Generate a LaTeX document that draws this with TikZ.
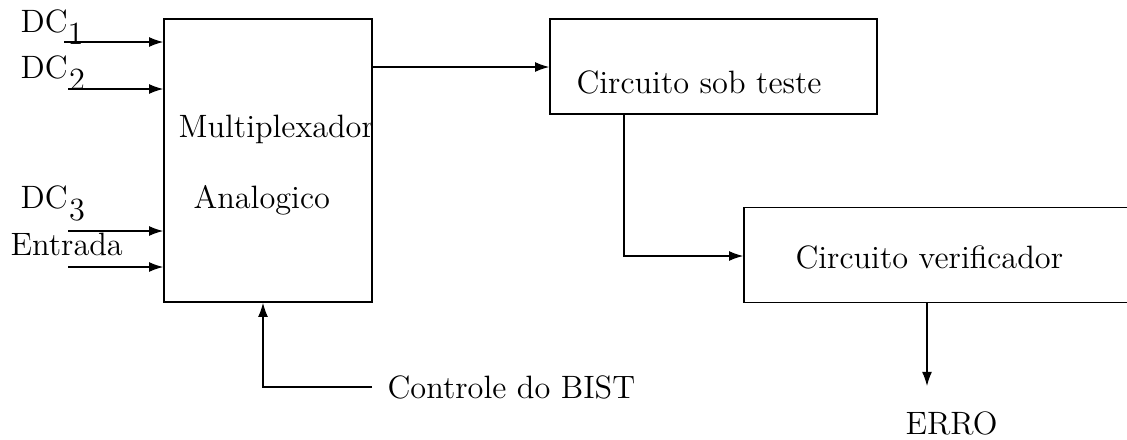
\documentclass[tikz,border=0pt]{standalone}
\usetikzlibrary{arrows.meta}

\tikzset{
  blk/.style={draw,semithick,rectangle,inner sep=0pt},
  lbl/.style={font=\fontsize{11.5}{13}\selectfont,anchor=base west,inner sep=0pt},
  arr/.style={-{Latex[length=5pt,width=3.5pt]}},
}
\newcommand{\lowsub}[2]{\kern#1\raisebox{-0.38em}{#2}}

\begin{document}
\begin{tikzpicture}[x=0.0125cm,y=-0.0125cm]
  \useasboundingbox (0,0) rectangle (1127,439);

  % blocks
  \node[blk,minimum width=208*0.0125cm,minimum height=283*0.0125cm] (mux) at (268,160.5) {};
  \node[blk,minimum width=327*0.0125cm,minimum height=95*0.0125cm] (cut) at (713.5,66.5) {};
  \node[blk,minimum width=400*0.0125cm,minimum height=95*0.0125cm] (ver) at (944,255) {};

  \node[lbl] (mtxt) at (178,137) {Multiplexador};
  \node[lbl] (atxt) at (193,208) {Analogico};
  \node[lbl] (ctxt) at (576,93) {Circuito sob teste};
  \node[lbl] (vtxt) at (795,268) {Circuito verificador};

  % inputs
  \coordinate (in1) at (64,42);
  \coordinate (in2) at (68,89);
  \coordinate (in3) at (68,231);
  \coordinate (in4) at (68,267);

  \node[lbl] (dc1) at (20,32) {DC\lowsub{0em}{1}};
  \node[lbl] (dc2) at (20,78) {DC\lowsub{0.05em}{2}};
  \node[lbl] (dc3) at (20,208) {DC\lowsub{0.05em}{3}};
  \node[lbl] (ent) at (10,255) {Entrada};

  \draw[arr] (in1) -- (in1 -| mux.west);
  \draw[arr] (in2) -- (in2 -| mux.west);
  \draw[arr] (in3) -- (in3 -| mux.west);
  \draw[arr] (in4) -- (in4 -| mux.west);

  % chain
  \coordinate (mout) at (372,67);
  \coordinate (bend) at (624,256);
  \coordinate (errtip) at (927,386);

  \draw[arr] (mout) -- (mout -| cut.west);
  \draw[arr] (cut.south -| bend) -- (bend) -- (bend -| ver.west);
  \draw[arr] (ver.south -| errtip) -- (errtip);
  \node[lbl] (erro) at (905,434) {ERRO};

  % control
  \node[lbl] (bist) at (387,398) {Controle do BIST};
  \coordinate (ctl) at (263,387);
  \coordinate (cend) at (372,387);
  \draw[arr] (cend) -- (ctl) -- (ctl |- mux.south);
\end{tikzpicture}
\end{document}
